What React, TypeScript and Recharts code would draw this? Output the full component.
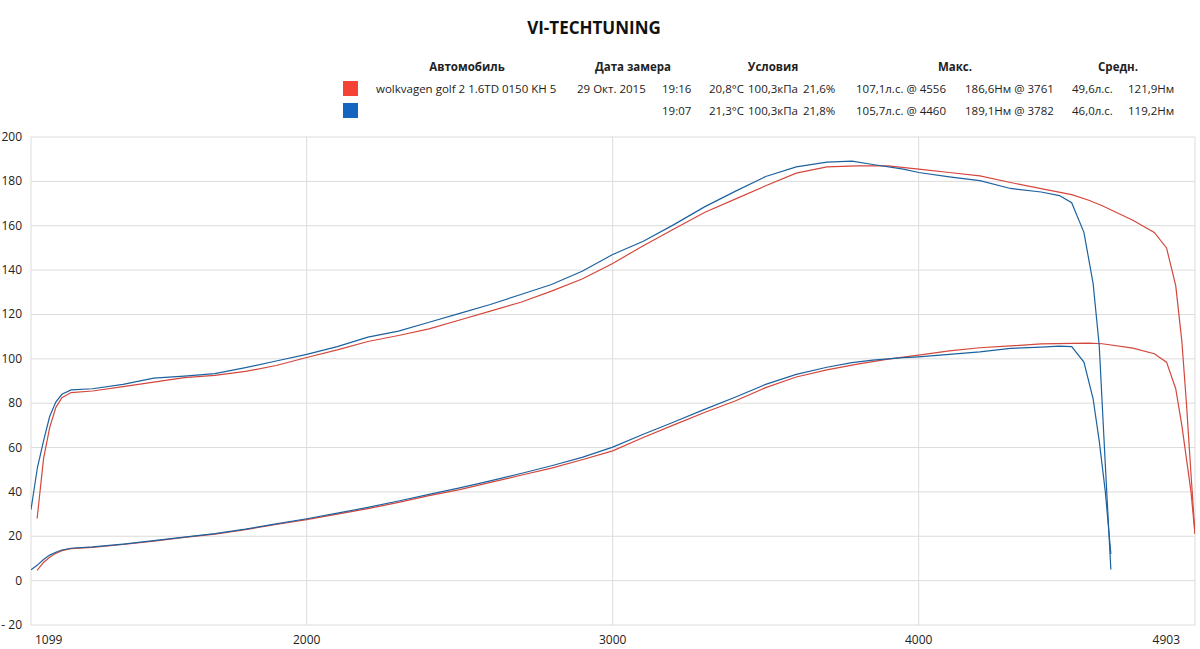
import { LineChart, Line, XAxis, YAxis, CartesianGrid } from "recharts";

// red run (wolkvagen golf 2, 19:16)
const redRpm = [1119, 1140, 1160, 1180, 1200, 1230, 1300, 1400, 1500, 1600, 1700, 1800, 1900, 2000, 2100, 2200, 2300, 2400, 2500, 2600, 2700, 2800, 2900, 3000, 3100, 3200, 3300, 3400, 3500, 3600, 3700, 3800, 3900, 4000, 4100, 4200, 4300, 4400, 4500, 4556, 4600, 4700, 4770, 4810, 4840, 4860, 4875, 4890, 4903];
const redTorque = [28, 55, 69, 78, 82.5, 84.8, 85.5, 87.5, 89.5, 91.5, 92.5, 94.3, 97, 100.6, 104, 107.8, 110.5, 113.5, 117.5, 121.5, 125.5, 130.5, 136, 143, 151, 158.5, 166, 172, 178, 183.7, 186.5, 187, 187, 185.5, 184, 182.5, 179.5, 176.7, 174, 171.5, 169, 162.5, 157, 150, 133, 108, 80, 48, 21];
const redPower = [4.6, 8.2, 10.5, 12.3, 13.5, 14.4, 15, 16.3, 17.8, 19.5, 21, 23, 25.3, 27.5, 30, 32.5, 35.3, 38.3, 41, 44.3, 47.5, 50.7, 54.5, 58.5, 64.5, 70.2, 75.8, 81, 87, 91.8, 95, 97.6, 99.9, 101.7, 103.6, 105, 105.8, 106.7, 107, 107.1, 106.8, 104.8, 102.3, 98.5, 86.5, 70, 55, 40, 21];

// blue run (19:07)
const blueRpm = [1099, 1120, 1140, 1160, 1180, 1200, 1230, 1300, 1400, 1500, 1600, 1700, 1800, 1900, 2000, 2100, 2200, 2300, 2400, 2500, 2600, 2700, 2800, 2900, 3000, 3100, 3200, 3300, 3400, 3500, 3600, 3700, 3782, 3850, 3950, 4000, 4100, 4200, 4300, 4400, 4460, 4500, 4540, 4570, 4590, 4610, 4628];
const blueTorque = [32, 51, 63, 74, 80.5, 84, 86, 86.5, 88.5, 91.3, 92.2, 93.3, 96, 99, 102, 105.5, 109.8, 112.5, 116.5, 120.5, 124.5, 129, 133.5, 139.5, 147, 153, 160.5, 168.5, 175.5, 182.2, 186.5, 188.7, 189.1, 187.6, 185.5, 184, 182, 180.3, 176.8, 175.2, 173.6, 170.4, 157, 134, 106, 52, 5];
const bluePower = [4.9, 7, 9.5, 11.5, 12.8, 13.8, 14.6, 15.2, 16.5, 18, 19.6, 21.2, 23.2, 25.6, 27.9, 30.4, 33, 35.9, 38.9, 41.8, 45, 48.3, 51.8, 55.6, 60.2, 66, 71.5, 77.2, 82.7, 88.5, 93, 96.2, 98.3, 99.4, 100.5, 100.9, 102, 103.1, 104.7, 105.3, 105.7, 105.5, 98.5, 82, 63, 40, 12];

const xTicks = [1099, 2000, 3000, 4000, 4903];
const yTicks = [-20, 0, 20, 40, 60, 80, 100, 120, 140, 160, 180, 200];

const headers = [
  { text: "Автомобиль", x: 467 },
  { text: "Дата замера", x: 633 },
  { text: "Условия", x: 773 },
  { text: "Макс.", x: 955 },
  { text: "Средн.", x: 1118 },
];
const row1 = [
  { text: "wolkvagen golf 2 1.6TD 0150 KH 5", x: 376 },
  { text: "29 Окт. 2015", x: 577 },
  { text: "19:16", x: 662 },
  { text: "20,8°C", x: 709 },
  { text: "100,3кПа", x: 748 },
  { text: "21,6%", x: 803 },
  { text: "107,1л.с. @ 4556", x: 856 },
  { text: "186,6Нм @ 3761", x: 965 },
  { text: "49,6л.с.", x: 1072 },
  { text: "121,9Нм", x: 1128 },
];
const row2 = [
  { text: "19:07", x: 662 },
  { text: "21,3°C", x: 709 },
  { text: "100,3кПа", x: 748 },
  { text: "21,8%", x: 803 },
  { text: "105,7л.с. @ 4460", x: 856 },
  { text: "189,1Нм @ 3782", x: 965 },
  { text: "46,0л.с.", x: 1072 },
  { text: "119,2Нм", x: 1128 },
];

const redData = redRpm.map((rpm, i) => ({ rpm, torque: redTorque[i], power: redPower[i] }));
const blueData = blueRpm.map((rpm, i) => ({ rpm, torque: blueTorque[i], power: bluePower[i] }));

const RED = "#d4473c";
const BLUE = "#1d62a0";
const FONT = "'Open Sans', 'Noto Sans', sans-serif";

function XTick(props: any) {
  const { x, y, payload } = props;
  const v = payload.value;
  let anchor: "start" | "middle" | "end" = "middle";
  let dx = 0;
  if (v === 1099) { anchor = "start"; dx = 4; }
  if (v === 4903) { anchor = "end"; dx = -4; }
  return (
    <text x={x + dx} y={y + 11} textAnchor={anchor} fontSize={12} fill="#222" fontFamily={FONT}>
      {v}
    </text>
  );
}

function YTick(props: any) {
  const { x, y, payload } = props;
  const v = payload.value;
  return (
    <text x={x} y={y + 4} textAnchor="end" fontSize={12} fill="#222" fontFamily={FONT}>
      {v < 0 ? "- " + Math.abs(v) : v}
    </text>
  );
}

export default function App() {
  const cell = { position: "absolute" as const, fontSize: 11.5, color: "#222", whiteSpace: "nowrap" as const, lineHeight: "14px" };
  return (
    <div style={{ position: "absolute", left: 0, top: 0, width: 1200, height: 649, background: "#fff", fontFamily: FONT }}>
      <div style={{ position: "absolute", left: 0, width: 1188, top: 16, textAlign: "center", fontWeight: 700, fontSize: 17, color: "#111" }}>
        VI-TECHTUNING
      </div>
      {headers.map((h) => (
        <div key={h.text} style={{ ...cell, top: 60, left: h.x, transform: "translateX(-50%)", fontWeight: 700 }}>
          {h.text}
        </div>
      ))}
      <div style={{ position: "absolute", left: 343, top: 81, width: 15, height: 15, background: "#f44336" }} />
      <div style={{ position: "absolute", left: 343, top: 103, width: 15, height: 15, background: "#1565c0" }} />
      {row1.map((c) => (
        <div key={"r1" + c.text} style={{ ...cell, top: 82, left: c.x }}>{c.text}</div>
      ))}
      {row2.map((c) => (
        <div key={"r2" + c.text} style={{ ...cell, top: 104, left: c.x }}>{c.text}</div>
      ))}
      <div style={{ position: "absolute", left: 0, top: 0 }}>
        <LineChart width={1200} height={649} margin={{ top: 137, right: 5, bottom: 0, left: 0 }}>
          <CartesianGrid stroke="#dcdcdc" strokeWidth={1} horizontalValues={yTicks} verticalValues={xTicks} />
          <XAxis
            type="number"
            dataKey="rpm"
            domain={[1099, 4903]}
            ticks={xTicks}
            allowDataOverflow
            axisLine={false}
            tickLine={false}
            height={24}
            tick={<XTick />}
          />
          <YAxis
            type="number"
            domain={[-20, 200]}
            ticks={yTicks}
            allowDataOverflow
            axisLine={false}
            tickLine={false}
            width={31}
            tickMargin={3}
            tick={<YTick />}
          />
          <Line data={redData} dataKey="torque" type="linear" stroke={RED} strokeWidth={1.2} dot={false} isAnimationActive={false} />
          <Line data={redData} dataKey="power" type="linear" stroke={RED} strokeWidth={1.2} dot={false} isAnimationActive={false} />
          <Line data={blueData} dataKey="torque" type="linear" stroke={BLUE} strokeWidth={1.2} dot={false} isAnimationActive={false} />
          <Line data={blueData} dataKey="power" type="linear" stroke={BLUE} strokeWidth={1.2} dot={false} isAnimationActive={false} />
        </LineChart>
      </div>
    </div>
  );
}
